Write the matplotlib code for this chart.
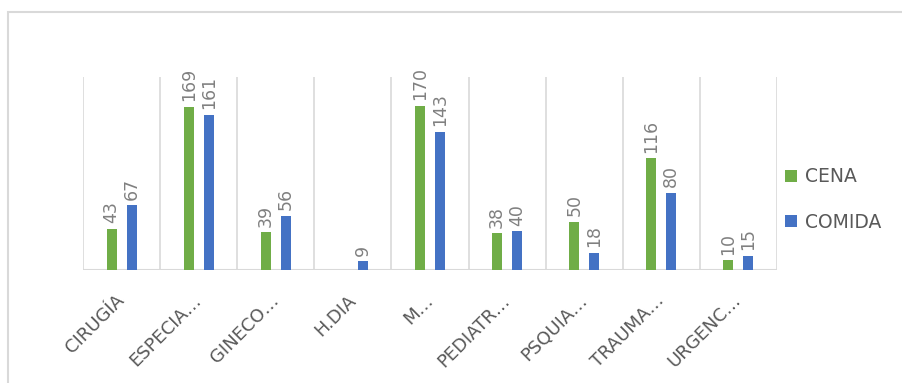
from matplotlib import pyplot as plt
from matplotlib.patches import Rectangle
import numpy as np

# Values.
categories = ["CIRUGÍA", "ESPECIA…", "GINECO…", "H.DIA", "M…",
              "PEDIATR…", "PSQUIA…", "TRAUMA…", "URGENC…"]
cena = [43, 169, 39, None, 170, 38, 50, 116, 10]
comida = [67, 161, 56, 9, 143, 40, 18, 80, 15]

green = "#70AD47"
blue = "#4472C4"
text_grey = "#595959"
label_grey = "#808080"

fig = plt.figure(figsize=(9.02, 3.83), dpi=100)
W, H = 902, 383
ax = fig.add_axes([83 / W, 1 - 270 / H, (777 - 83) / W, (270 - 77) / H])

x = np.arange(len(categories))
off = 0.13
width = 0.13
cena_vals = [v if v is not None else 0 for v in cena]
ax.bar(x - off, cena_vals, width, color=green, label="CENA", zorder=3)
ax.bar(x + off, comida, width, color=blue, label="COMIDA", zorder=3)

# Data labels, rotated like the original.
for i, v in enumerate(cena):
    if v is None:
        continue
    ax.annotate(str(v), (x[i] - off, v), xytext=(0, 4), textcoords="offset points",
                rotation=90, ha="center", va="bottom", fontsize=12.5, color=label_grey)
for i, v in enumerate(comida):
    ax.annotate(str(v), (x[i] + off, v), xytext=(0, 4), textcoords="offset points",
                rotation=90, ha="center", va="bottom", fontsize=12.5, color=label_grey)

ax.set_xlim(-0.5, len(categories) - 0.5)
ax.set_ylim(0, 200)
# vertical separators between categories
for b in np.arange(-0.5, len(categories), 1.0):
    ax.axvline(b, color="#D9D9D9", lw=1.2, zorder=1)
ax.axhline(0, color="#D9D9D9", lw=1.5, zorder=2)

for s in ax.spines.values():
    s.set_visible(False)
ax.set_yticks([])
ax.set_xticks(x)
ax.set_xticklabels(categories, rotation=45, ha="right", va="center",
                   rotation_mode="anchor", fontsize=13, color=text_grey)
ax.tick_params(axis="x", length=0, pad=20)

leg = ax.legend(loc="center left", bbox_to_anchor=(1.0, 0.365), frameon=False,
                fontsize=13.5, handlelength=0.65, handleheight=0.65,
                labelspacing=1.4, handletextpad=0.45, borderaxespad=0.0)
for t in leg.get_texts():
    t.set_color(text_grey)

# chart border
fig.patches.append(Rectangle((8 / W, -0.1), 1.2, 1 - 12 / H + 0.1,
                             transform=fig.transFigure, fill=False,
                             edgecolor="#D9D9D9", lw=1.5))

plt.savefig("out.png", dpi=100)
